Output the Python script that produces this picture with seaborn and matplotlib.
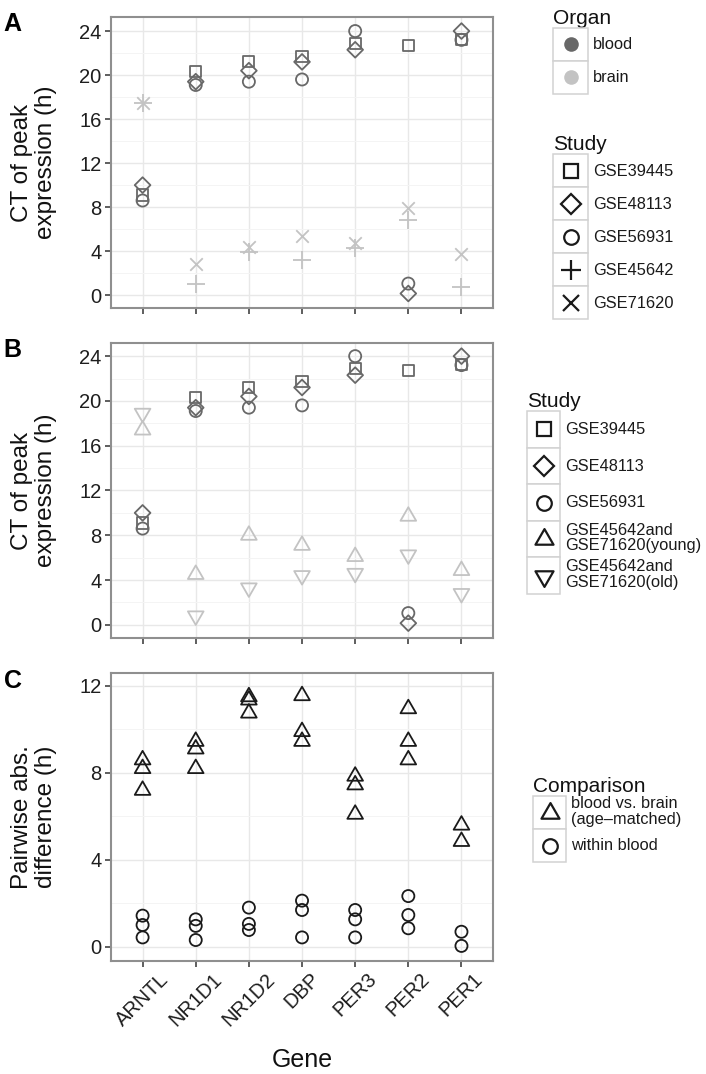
import numpy as np
import pandas as pd
import matplotlib
matplotlib.use('Agg')
import matplotlib.pyplot as plt
from matplotlib.path import Path
from matplotlib.patches import Rectangle
from matplotlib.lines import Line2D
from matplotlib.legend_handler import HandlerBase
from matplotlib.ticker import MultipleLocator
import seaborn as sns

genes = ['ARNTL', 'NR1D1', 'NR1D2', 'DBP', 'PER3', 'PER2', 'PER1']

# CT of peak expression, blood studies (same in A and B)
gse39445 = [9.1, 20.3, 21.2, 21.7, 22.9, 22.7, 23.25]
gse48113 = [10.0, 19.4, 20.4, 21.2, 22.3, 0.15, 24.0]
gse56931 = [8.6, 19.1, 19.4, 19.6, 24.0, 1.05, 23.2]

# brain studies, panel A
gse45642 = [17.5, 1.05, 3.9, 3.2, 4.3, 6.8, 0.7]
gse71620 = [17.5, 2.8, 4.4, 5.4, 4.7, 7.95, 3.7]

# brain, panel B (GSE45642 + GSE71620 split by age)
brain_young = [17.4, 4.5, 8.0, 7.1, 6.1, 9.7, 4.85]
brain_old = [18.9, 0.8, 3.3, 4.4, 4.6, 6.25, 2.8]

# panel C, pairwise abs. differences per gene
between = [[8.6, 8.2, 7.2], [9.45, 9.1, 8.2], [11.5, 11.35, 10.75],
           [11.55, 9.9, 9.45], [7.85, 7.45, 6.1], [10.95, 9.45, 8.6],
           [5.6, 4.85]]
within = [[1.44, 1.01, 0.44], [1.27, 0.97, 0.32], [1.81, 1.06, 0.78],
          [2.13, 1.70, 0.44], [1.70, 1.27, 0.44], [2.34, 1.47, 0.86],
          [0.70, 0.05]]

study_a = ['GSE39445', 'GSE48113', 'GSE56931', 'GSE45642', 'GSE71620']
study_b = ['GSE39445', 'GSE48113', 'GSE56931',
           'GSE45642and\nGSE71620(young)', 'GSE45642and\nGSE71620(old)']
comp_labels = ['blood vs. brain\n(age\u2013matched)', 'within blood']


def long_table(series, names, organs):
    rows = []
    for vals, nm, org in zip(series, names, organs):
        for g, v in zip(genes, vals):
            rows.append((g, v, nm, org))
    df = pd.DataFrame(rows, columns=['gene', 'ct', 'study', 'organ'])
    df['gene'] = pd.Categorical(df['gene'], categories=genes)
    return df


dfA = long_table([gse39445, gse48113, gse56931, gse45642, gse71620], study_a,
                 ['blood'] * 3 + ['brain'] * 2)
dfB = long_table([gse39445, gse48113, gse56931, brain_young, brain_old], study_b,
                 ['blood'] * 3 + ['brain'] * 2)
rows = []
for g, b, w in zip(genes, between, within):
    rows += [(g, v, comp_labels[0]) for v in b]
    rows += [(g, v, comp_labels[1]) for v in w]
dfC = pd.DataFrame(rows, columns=['gene', 'diff', 'comparison'])
dfC['gene'] = pd.Categorical(dfC['gene'], categories=genes)

sns.set_theme(style='white')
plt.rcParams['font.family'] = ['Liberation Sans', 'DejaVu Sans']

tri_up = Path([(0, 1), (-0.866, -0.5), (0.866, -0.5), (0, 1)], closed=True)
tri_down = Path([(0, -1), (-0.866, 0.5), (0.866, 0.5), (0, -1)], closed=True)

col_organ = {'blood': '#686868', 'brain': '#c3c3c3'}
ink = '#1a1a1a'
mk_a = dict(zip(study_a, ['s', 'D', 'o', '+', 'x']))
mk_b = dict(zip(study_b, ['s', 'D', 'o', tri_up, tri_down]))
mk_c = dict(zip(comp_labels, [tri_up, 'o']))
# marker size in points
ms_plot = {'s': 8, 'D': 8, 'o': 8.7, '+': 13, 'x': 9}
ms_leg = {'s': 10.5, 'D': 10, 'o': 10.5, '+': 14, 'x': 11.5}
TRI_PLOT, TRI_LEG = 13, 15


def msize(m, table, tri):
    return tri if isinstance(m, Path) else table[m]


def scatter(ax, sub, y, m, color):
    s = msize(m, ms_plot, TRI_PLOT) ** 2
    if isinstance(m, str) and m in '+x':
        sns.scatterplot(data=sub, x='gene', y=y, marker=m, s=s, color=color,
                        linewidth=1.3, ax=ax, legend=False)
    else:
        sns.scatterplot(data=sub, x='gene', y=y, marker=m, s=s, facecolors='none',
                        edgecolor=color, linewidth=1.3, ax=ax, legend=False)


class BoxedKey(HandlerBase):
    def create_artists(self, legend, orig_handle, xdescent, ydescent,
                       width, height, fontsize, trans):
        box = Rectangle((-xdescent, -ydescent), width, height, facecolor='white',
                        edgecolor='#d2d2d2', linewidth=1.1, transform=trans)
        mk = Line2D([width / 2 - xdescent], [height / 2 - ydescent])
        mk.update_from(orig_handle)
        mk.set_transform(trans)
        return [box, mk]


def key(m, color=ink, filled=False):
    return Line2D([], [], ls='none', marker=m, markersize=msize(m, ms_leg, TRI_LEG),
                  markerfacecolor=color if filled else 'none', markeredgecolor=color,
                  markeredgewidth=0 if filled else 1.6, color=color)


def add_legend(ax, handles, labels, title, anchor, key_px, width_px):
    fs = 11.8
    fs_px = fs * 100 / 72
    # legend draws the key box 0.65*hh + 0.245 font sizes tall
    hh = (key_px / fs_px - 0.245) / 0.65
    leg = ax.legend(handles, labels, title=title, loc='upper left',
                    bbox_to_anchor=anchor, bbox_transform=fig.transFigure,
                    frameon=False, borderpad=0, borderaxespad=0, labelspacing=0,
                    handlelength=width_px / fs_px, handleheight=hh, handletextpad=0.3,
                    fontsize=fs, title_fontsize=15, alignment='left',
                    handler_map={Line2D: BoxedKey()})
    for t in leg.get_texts():
        t.set_linespacing(1.02)
        t.set_color('#1a1a1a')
    leg.get_title().set_color('#111111')
    return leg


def style_axes(ax, ylim, xlabels):
    ax.set_xlim(-0.6, 6.6)
    ax.set_ylim(*ylim)
    ax.yaxis.set_major_locator(MultipleLocator(4))
    ax.yaxis.set_minor_locator(MultipleLocator(2))
    ax.set_axisbelow(True)
    ax.grid(which='major', color='#e8e8e8', linewidth=1.0)
    ax.grid(which='minor', axis='y', color='#f4f4f4', linewidth=0.7)
    for sp in ax.spines.values():
        sp.set_color('#8f8f8f')
        sp.set_linewidth(1.5)
    ax.tick_params(which='major', direction='out', length=4.5, width=1.1,
                   color='#333333', labelsize=14.5, labelcolor='#1e1e1e', pad=2,
                   bottom=True, left=True)
    ax.tick_params(which='minor', length=0)
    ax.set_xticks(range(len(genes)))
    if xlabels:
        ax.set_xticklabels(genes, rotation=45)
    else:
        ax.set_xticklabels([])
    ax.set_xlabel('')


fig = plt.figure(figsize=(7.06, 10.74), dpi=100)
axA = fig.add_axes([0.1568, 0.7129, 0.542, 0.2715])
axB = fig.add_axes([0.1568, 0.4057, 0.542, 0.2752])
axC = fig.add_axes([0.1568, 0.1055, 0.542, 0.2676])

# panel A
for (st, org), sub in dfA.groupby(['study', 'organ'], sort=False, observed=True):
    scatter(axA, sub, 'ct', mk_a[st], col_organ[org])
# panel B
for (st, org), sub in dfB.groupby(['study', 'organ'], sort=False, observed=True):
    scatter(axB, sub, 'ct', mk_b[st], col_organ[org])
# panel C
for cmp_, sub in dfC.groupby('comparison', sort=False, observed=True):
    scatter(axC, sub, 'diff', mk_c[cmp_], ink)

style_axes(axA, (-1.2, 25.3), False)
style_axes(axB, (-1.2, 25.2), False)
style_axes(axC, (-0.63, 12.58), True)

ylab = 'CT of peak\nexpression (h)'
for ax, lab in [(axA, ylab), (axB, ylab), (axC, 'Pairwise abs.\ndifference (h)')]:
    ax.set_ylabel(lab, fontsize=17.5, linespacing=1.15, color='#111111')
    ax.yaxis.set_label_coords(-0.14, 0.5)
axC.set_xlabel('Gene', fontsize=18, color='#111111')
axC.xaxis.set_label_coords(0.5, -0.305)

for ax, letter in [(axA, 'A'), (axB, 'B'), (axC, 'C')]:
    top = ax.get_position().y1
    fig.text(0.005, top + 0.004, letter, fontsize=18, fontweight='heavy',
             color='black', va='top')

# legends
legO = add_legend(axA, [key('o', col_organ['blood'], True), key('o', col_organ['brain'], True)],
                  ['blood', 'brain'], 'Organ', (0.7833, 0.992), 33, 35)
axA.add_artist(legO)
add_legend(axA, [key(mk_a[s]) for s in study_a], study_a, 'Study',
           (0.7833, 0.874), 33, 35)
add_legend(axB, [key(mk_b[s]) for s in study_b], study_b, 'Study',
           (0.7465, 0.635), 36.6, 33)
add_legend(axC, [key(mk_c[c]) for c in comp_labels], comp_labels, 'Comparison',
           (0.755, 0.2765), 33, 33)

fig.savefig('out.png', dpi=100)
